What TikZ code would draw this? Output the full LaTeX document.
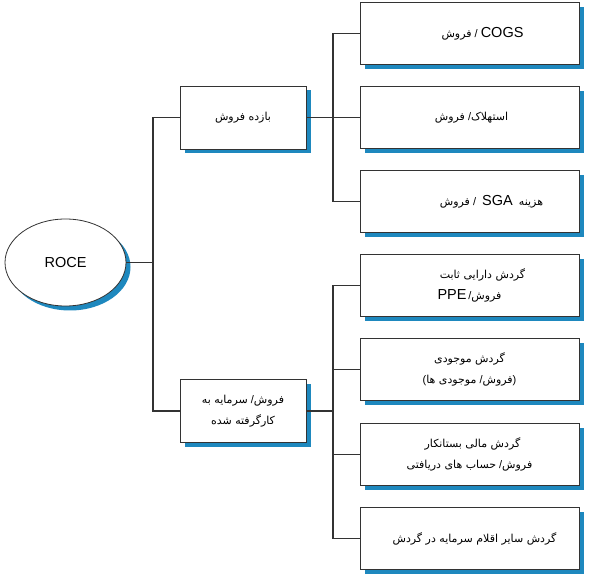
\documentclass[tikz,border=0pt]{standalone}
\usepackage{fontspec}
\setmainfont{Liberation Sans}
\newfontfamily\fa[Script=Arabic]{DejaVu Sans}
\TeXXeTstate=1
\usetikzlibrary{shapes.geometric,shadows}
\definecolor{shadowblue}{HTML}{1E88BE}
\definecolor{linegray}{HTML}{333333}
\newcommand{\pers}[1]{{\fa\beginR #1\endR}}
\newcommand{\lat}[1]{{\fontsize{14.5}{16}\selectfont #1}}

\begin{document}
\begin{tikzpicture}[x=1pt,y=-1pt]
\tikzset{
  blueshadow/.style = {drop shadow={shadow xshift=4.5pt,shadow yshift=-4.5pt,fill=shadowblue,opacity=1}},
  box/.style = {draw=linegray,line width=0.8pt,fill=white,blueshadow,align=center,
    font=\fontsize{11}{21}\selectfont},
  bigbox/.style = {box,minimum width=219pt,minimum height=62pt},
  midbox/.style = {box,minimum width=126pt,minimum height=63pt},
  link/.style = {draw=linegray,line width=1.5pt}
}
\useasboundingbox (0,0) rectangle (592,577);

\node[ellipse,draw=linegray,line width=0.8pt,fill=white,blueshadow,minimum width=121pt,minimum height=87pt] (roce) at (65.5,262.5) {\lat{ROCE}};

\node[midbox] (sales) at (243,117.5) {\pers{بازده فروش}};
\node[midbox] (cap) at (243,411) {\pers{سرمایه به} /\pers{فروش}\\\pers{کارگرفته شده}};

\node[bigbox] (r1) at (469.5,33.5) {\hspace*{26pt}\pers{فروش} / \lat{COGS}};
\node[bigbox] (r2) at (469.5,117.5) {\hspace*{4pt}\pers{فروش} /\pers{استهلاک}};
\node[bigbox] (r3) at (469.5,201.5) {\hspace*{44pt}\pers{فروش} /\ \ \lat{SGA}\ \ \pers{هزینه}};
\node[bigbox] (r4) at (469.5,285.5) {\hspace*{26pt}\pers{گردش دارایی ثابت}\\\lat{PPE}\,/\pers{فروش}};
\node[bigbox] (r5) at (469.5,369.5) {\pers{گردش موجودی}\\(\pers{موجودی ها} /\pers{فروش})};
\node[bigbox] (r6) at (469.5,454.5) {\hspace*{6pt}\pers{گردش مالی بستانکار}\\\pers{حساب های دریافتی} /\pers{فروش}};
\node[bigbox] (r7) at (469.5,538.5) {\hspace*{10pt}\pers{گردش سایر اقلام سرمایه در گردش}};

\coordinate (j0) at (153,262.5);
\coordinate (j1) at (333,117.5);
\coordinate (j2) at (333,411);

\path[link] (roce.east) -- (j0);
\path[link] (sales.west) -| (j0) |- (cap.west);
\path[link] (sales.east) -- (j1);
\path[link] (r1.west) -| (j1) |- (r3.west);
\path[link] (r2.west) -- (j1);
\path[link] (cap.east) -- (j2);
\path[link] (r4.west) -| (j2) |- (r7.west);
\foreach \n in {r5,r6}
  \path[link] (\n.west) -- (\n.west -| j2);
\end{tikzpicture}
\end{document}
